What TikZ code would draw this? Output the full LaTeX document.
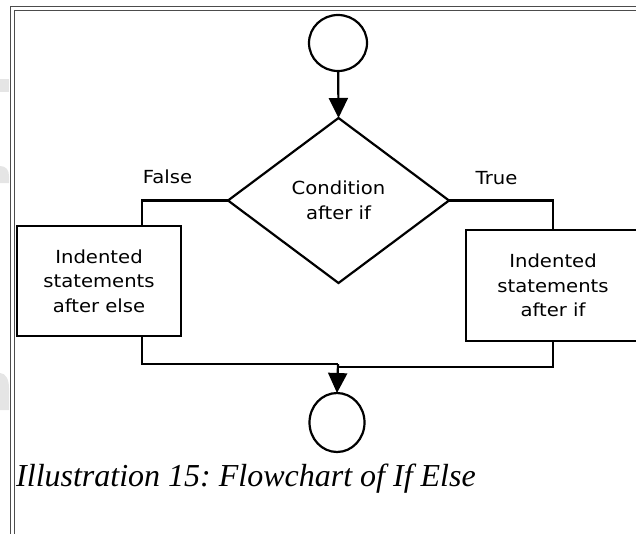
\documentclass[tikz,border=0pt]{standalone}
\usepackage{fontspec}
\usetikzlibrary{arrows.meta,shapes.geometric}
\newfontfamily\lblfont{DejaVu Sans}[FakeStretch=1.09]
\newfontfamily\capfont{Liberation Serif}
\frenchspacing
\begin{document}
\begin{tikzpicture}[x=1pt,y=-1pt,
  line/.style={line width=2.2pt, black},
  arr/.style={line, -{Triangle[length=20pt,width=19pt]}},
  txt/.style={font=\lblfont\fontsize{18}{24.5}\selectfont, align=center},
  box/.style={draw, line width=2.2pt, rectangle, inner sep=0pt, outer sep=0pt, txt},
  term/.style={draw, line width=2.2pt, ellipse, inner sep=0pt, outer sep=0pt},
  decision/.style={draw, line width=2.2pt, diamond, inner sep=0pt, outer sep=0pt, txt},
  frameline/.style={line width=0.9pt, black!70},
  ghost/.style={fill=black!10}]
\useasboundingbox (0,0) rectangle (636,533);
\begin{scope}
  \clip (0,0) rectangle (636,533);
  \fill[ghost] (0,79) rectangle (9,92);
  \fill[ghost] (0,183) -- (0,166) .. controls (6,166) and (9,170) .. (9,176) -- (9,183) -- cycle;
  \fill[ghost] (0,410) -- (0,373) .. controls (6,373) and (9,380) .. (9,388) -- (9,410) -- cycle;
  \draw[frameline] (10.5,540) -- (10.5,6) -- (640,6);
  \draw[frameline] (14,540) -- (14,10) -- (640,10);
\end{scope}
\node[term, minimum width=58pt, minimum height=56pt] (start) at (338,43) {};
\node[decision, minimum width=221pt, minimum height=165pt] (cond) at (338.5,200.5) {Condition\\after if};
\node[box, minimum width=164pt, minimum height=110pt] (elsebox) at (99,281) {Indented\\statements\\after else};
\begin{scope}
  \clip (0,0) rectangle (636,533);
  \node[box, minimum width=174pt, minimum height=111pt] (ifbox) at (553,285.5) {Indented\\statements\\after if};
\end{scope}
\node[term, minimum width=55pt, minimum height=59pt] (stop) at (337,422.5) {};
\coordinate (fx) at (142,0);
\coordinate (mergeL) at (338,364);
\coordinate (merge) at (338,367);
\draw[arr] (start) -- (cond.north);
\draw[line] (cond.west) -| (fx |- elsebox.north);
\draw[line] (cond.east) -| (ifbox.north);
\draw[line] (fx |- elsebox.south) |- (mergeL);
\draw[line] (ifbox.south) |- (merge);
\draw[arr] (mergeL) -- (stop.north);
\node[txt, anchor=base, inner sep=0pt] (lfalse) at (167.5,183) {False};
\node[txt, anchor=base, inner sep=0pt] (ltrue) at (496.5,184) {True};
\node[anchor=base west, inner sep=0pt, font=\capfont\itshape\fontsize{32}{38}\selectfont] (caption) at (16,486) {Illustration 15: Flowchart of If Else};
\end{tikzpicture}
\end{document}
